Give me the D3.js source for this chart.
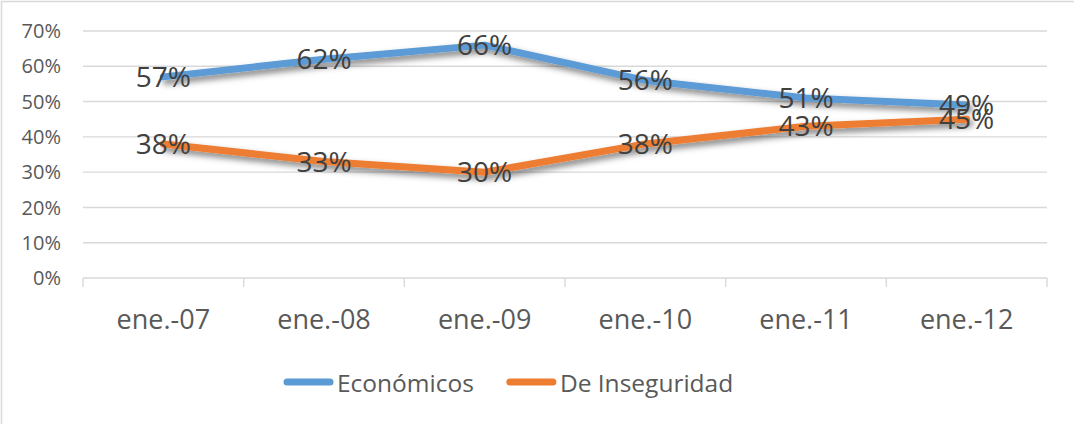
<!DOCTYPE html>
<html>
<head>
<meta charset="utf-8">
<script src="https://cdn.jsdelivr.net/npm/d3@7"></script>
<style>
  body { margin: 0; background: #fff; }
  svg { display: block; font-family: "Open Sans", sans-serif; }
</style>
</head>
<body>
<div id="chart"></div>
<script>
const categories = ["ene.-07", "ene.-08", "ene.-09", "ene.-10", "ene.-11", "ene.-12"];
const economicos = [57, 62, 66, 56, 51, 49];
const inseguridad = [38, 33, 30, 38, 43, 45];
const yTicks = [0, 10, 20, 30, 40, 50, 60, 70];
const seriesNames = ["Económicos", "De Inseguridad"];
const seriesColors = ["#5B9BD5", "#ED7D31"];

const width = 1074, height = 424;
const margin = { left: 83, right: 27, top: 31, bottom: 146 };

const svg = d3.select("#chart").append("svg")
    .attr("width", width)
    .attr("height", height)
    .attr("viewBox", [0, 0, width, height]);

// chart frame
svg.append("rect")
    .attr("x", 1.5).attr("y", 1.5)
    .attr("width", width + 10).attr("height", height + 10)
    .attr("fill", "#fff")
    .attr("stroke", "#d9d9d9")
    .attr("stroke-width", 1.5);

const defs = svg.append("defs");
defs.append("filter")
    .attr("id", "shadow")
    .attr("x", "-10%").attr("y", "-50%")
    .attr("width", "120%").attr("height", "200%")
    .append("feDropShadow")
    .attr("dx", 3).attr("dy", 4)
    .attr("stdDeviation", 3)
    .attr("flood-color", "#000")
    .attr("flood-opacity", 0.5);

const xScale = d3.scaleBand(categories, [margin.left, width - margin.right]);
const yScale = d3.scaleLinear([0, 70], [height - margin.bottom, margin.top]);
const xPos = d => xScale(d) + xScale.bandwidth() / 2;

// gridlines
svg.append("g")
    .selectAll("line")
    .data(yTicks.filter(d => d > 0))
    .join("line")
    .attr("x1", margin.left).attr("x2", width - margin.right)
    .attr("y1", d => yScale(d)).attr("y2", d => yScale(d))
    .attr("stroke", "#d9d9d9")
    .attr("stroke-width", 1.4);

// y labels
svg.append("g")
    .selectAll("text")
    .data(yTicks)
    .join("text")
    .attr("x", 61)
    .attr("y", d => yScale(d))
    .attr("dy", "0.36em")
    .attr("text-anchor", "end")
    .attr("fill", "#595959")
    .attr("font-size", 20)
    .text(d => d + "%");

// x axis
const xAxis = svg.append("g")
    .attr("transform", `translate(0, ${yScale(0)})`)
    .call(d3.axisBottom(xScale).tickSize(0).tickPadding(32));
xAxis.select(".domain").remove();
xAxis.selectAll("text")
    .attr("fill", "#595959")
    .attr("font-size", 27)
    .attr("font-family", "Open Sans, sans-serif");

svg.append("line")
    .attr("x1", margin.left).attr("x2", width - margin.right)
    .attr("y1", yScale(0)).attr("y2", yScale(0))
    .attr("stroke", "#d9d9d9")
    .attr("stroke-width", 1.4);

const bounds = categories.map(d => xScale(d)).concat([width - margin.right]);
svg.append("g")
    .selectAll("line")
    .data(bounds)
    .join("line")
    .attr("x1", d => d).attr("x2", d => d)
    .attr("y1", yScale(0)).attr("y2", yScale(0) + 9)
    .attr("stroke", "#d9d9d9")
    .attr("stroke-width", 1.4);

// lines
const series = [economicos, inseguridad];
const lineGen = d3.line()
    .x((d, i) => xPos(categories[i]))
    .y(d => yScale(d));

series.forEach((values, s) => {
    svg.append("path")
        .attr("fill", "none")
        .attr("stroke", seriesColors[s])
        .attr("stroke-width", 7)
        .attr("stroke-linejoin", "round")
        .attr("stroke-linecap", "round")
        .attr("filter", "url(#shadow)")
        .attr("d", lineGen(values));
});

// data labels
series.forEach(values => {
    svg.append("g")
        .selectAll("text")
        .data(values)
        .join("text")
        .attr("x", (d, i) => xPos(categories[i]))
        .attr("y", d => yScale(d))
        .attr("dy", "0.36em")
        .attr("text-anchor", "middle")
        .attr("fill", "#404040")
        .attr("font-size", 28)
        .text(d => d + "%");
});

// legend
const legend = svg.append("g");
let lx = 284;
seriesNames.forEach((name, s) => {
    legend.append("line")
        .attr("x1", lx + 3).attr("x2", lx + 46)
        .attr("y1", 382).attr("y2", 382)
        .attr("stroke", seriesColors[s])
        .attr("stroke-width", 7)
        .attr("stroke-linecap", "round");
    const t = legend.append("text")
        .attr("x", lx + 53)
        .attr("y", 392)
        .attr("fill", "#595959")
        .attr("font-size", 24.5)
        .text(name);
    lx = lx + 53 + t.node().getComputedTextLength() + 33;
});
</script>
</body>
</html>
